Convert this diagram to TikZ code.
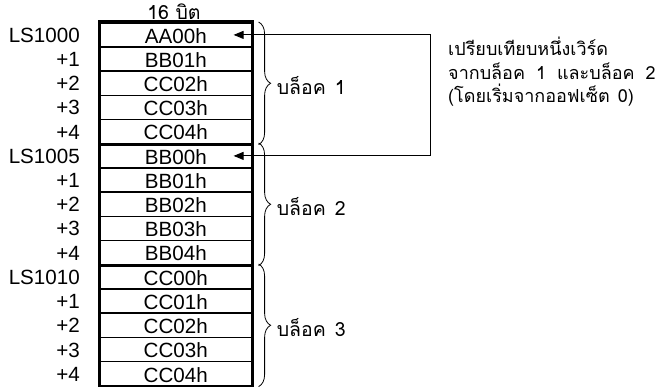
\documentclass[tikz,border=0pt]{standalone}
\usepackage{fontspec}
\setmainfont{Liberation Sans}
\newfontfamily\thaifont[Script=Thai]{Loma}
\usetikzlibrary{decorations.pathreplacing,arrows.meta}
\begin{document}
\begin{tikzpicture}[x=1pt,y=-1pt,
  cell/.style={draw,line width=1.6pt,minimum width=152pt,inner sep=0pt,
    text height=20.4pt,text depth=3.8pt,font=\fontsize{20.6}{22}\selectfont},
  addr/.style={anchor=base east,inner sep=0pt,font=\fontsize{20.6}{22}\selectfont},
  blk/.style={anchor=west,inner sep=0pt,font=\thaifont\fontsize{19.5}{22}\selectfont},
  bracestyle/.style={decorate,decoration={brace,amplitude=12pt},line width=0.8pt},
  conn/.style={line width=0.9pt,{Triangle[length=10pt,width=8pt]}-{Triangle[length=10pt,width=8pt]}},
  sep/.style={line width=2.8pt},
  outer/.style={line width=3pt}]
\useasboundingbox (0,0) rectangle (661,387);
\def\rowh{24.2}
\foreach \i/\t/\a in {1/AA00h/LS1000,2/BB01h/+1,3/CC02h/+2,4/CC03h/+3,5/CC04h/+4,
  6/BB00h/LS1005,7/BB01h/+1,8/BB02h/+2,9/BB03h/+3,10/BB04h/+4,
  11/CC00h/LS1010,12/CC01h/+1,13/CC02h/+2,14/CC03h/+3,15/CC04h/+4}{
  \node[cell,anchor=north] (c\i) at (175.8,{22+(\i-1)*\rowh}) {\t};
  \node[addr] (a\i) at (80,{22+\i*\rowh-3.8}) {\a};
}
% outer border and block separators
\draw[outer] (c1.north west) rectangle (c15.south east);
\draw[sep] (c5.south west) -- (c5.south east);
\draw[sep] (c10.south west) -- (c10.south east);
% header
\node[font=\thaifont\fontsize{19.5}{20}\selectfont,inner sep=0pt] (hdr) at (174,12) {16 บิต};
% braces
\draw[bracestyle] ([xshift=6pt]c1.north east) -- ([xshift=6pt]c5.south east) coordinate[midway,xshift=13pt] (b1);
\draw[bracestyle] ([xshift=6pt]c6.north east) -- ([xshift=6pt]c10.south east) coordinate[midway,xshift=13pt] (b2);
\draw[bracestyle] ([xshift=6pt]c11.north east) -- ([xshift=6pt]c15.south east) coordinate[midway,xshift=13pt] (b3);
\node[blk] (l1) at ([xshift=5pt,yshift=-2pt]b1) {บล็อค\hspace{9pt}1};
\node[blk] (l2) at ([xshift=5pt,yshift=-2pt]b2) {บล็อค\hspace{9pt}2};
\node[blk] (l3) at ([xshift=5pt,yshift=-2pt]b3) {บล็อค\hspace{9pt}3};
% connector
\coordinate (turn) at (430,0);
\draw[conn] ([xshift=-19pt]c1.east) -- (c1.east -| turn) -- (c6.east -| turn) -- ([xshift=-19pt]c6.east);
% note
\node[anchor=north west,align=left,inner sep=0pt,font=\thaifont\fontsize{18}{23.5}\selectfont] (note) at (448,37)
  {เปรียบเทียบหนึ่งเวิร์ด\\จากบล็อค\hspace{11pt}1\hspace{11pt}และบล็อค\hspace{11pt}2\\(โดยเริ่มจากออฟเซ็ต\hspace{8pt}0)};
\end{tikzpicture}
\end{document}
